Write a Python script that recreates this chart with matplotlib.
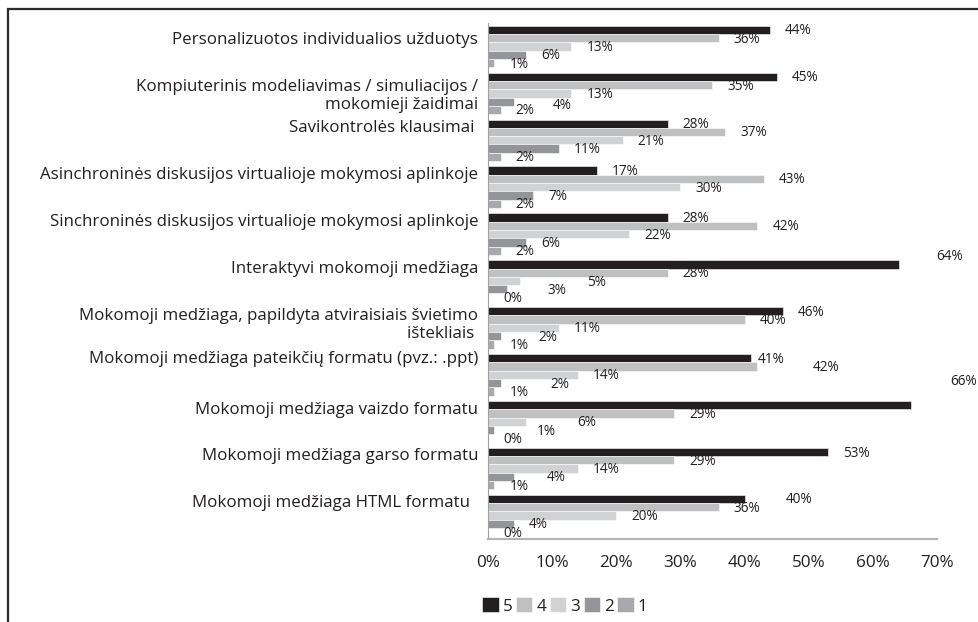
import matplotlib.pyplot as plt
import numpy as np
from matplotlib.patches import Rectangle
from matplotlib.ticker import MultipleLocator, FuncFormatter

plt.rcParams['font.family'] = ['Open Sans', 'DejaVu Sans']

# categories, top to bottom
categories = [
    'Personalizuotos individualios užduotys',
    'Kompiuterinis modeliavimas / simuliacijos /\nmokomieji žaidimai',
    'Savikontrolės klausimai ',
    'Asinchroninės diskusijos virtualioje mokymosi aplinkoje',
    'Sinchroninės diskusijos virtualioje mokymosi aplinkoje',
    'Interaktyvi mokomoji medžiaga',
    'Mokomoji medžiaga, papildyta atviraisiais švietimo\ništekliais ',
    'Mokomoji medžiaga pateikčių formatu (pvz.: .ppt)',
    'Mokomoji medžiaga vaizdo formatu',
    'Mokomoji medžiaga garso formatu',
    'Mokomoji medžiaga HTML formatu  ',
]

series_names = ['5', '4', '3', '2', '1']
s5 = [44, 45, 28, 17, 28, 64, 46, 41, 66, 53, 40]
s4 = [36, 35, 37, 43, 42, 28, 40, 42, 29, 29, 36]
s3 = [13, 13, 21, 30, 22, 5, 11, 14, 6, 14, 20]
s2 = [6, 4, 11, 7, 6, 3, 2, 2, 1, 4, 4]
s1 = [1, 2, 2, 2, 2, 0, 1, 1, 0, 1, 0]

colors = ['#231f20', '#bfc0c2', '#d1d2d4', '#939598', '#a7a9ac']
text_color = '#231f20'

# value labels that sit off their default place in the original (pixels)
label_nudge = {
    (1, 3): (24, 3), (5, 0): (23, -9), (5, 2): (52, 0), (5, 3): (25, 0),
    (6, 3): (23, 0), (7, 0): (-8, 0), (7, 1): (40, 0), (7, 3): (35, 0),
    (8, 0): (24, -25), (8, 2): (36, 0), (8, 3): (27, 0), (9, 3): (18, 0),
    (10, 0): (26, 0),
}
# small vertical shifts of category labels (pixels, down is positive)
cat_nudge = {0: 6, 1: 6, 7: -4}

fig = plt.figure(figsize=(9.79, 6.22), dpi=100)
ax = fig.add_axes([488 / 979, 1 - 539 / 622, (937 - 488) / 979, (539 - 23) / 622])

y = np.arange(len(categories))
bar_h = 0.177
group = [s5, s4, s3, s2, s1]
bars = []
px = 72 / 100  # pixels -> points
for k, (vals, name, col) in enumerate(zip(group, series_names, colors)):
    pos = y - 2.5 * bar_h + (k + 0.5) * bar_h
    b = ax.barh(pos, vals, height=bar_h, color=col, edgecolor='white',
                linewidth=0.4, label=name)
    bars.append(b)
    # value labels
    for i, (p, v) in enumerate(zip(pos, vals)):
        dx, dy = label_nudge.get((i, k), (0, 0))
        ax.annotate(f'{v}%', xy=(v, p), xytext=((15 + dx) * px, (-1 - dy) * px),
                    textcoords='offset points', ha='left', va='center',
                    fontsize=9.8, color=text_color)

ax.set_xlim(0, 70)
ax.set_ylim(len(categories) - 0.5, -0.5)
ax.xaxis.set_major_locator(MultipleLocator(10))
ax.xaxis.set_major_formatter(FuncFormatter(lambda v, _: f'{v:.0f}%'))
ax.tick_params(axis='x', length=0, pad=11.5, labelsize=12.3, labelcolor=text_color)
ax.set_yticks([])

for s in ['top', 'right']:
    ax.spines[s].set_visible(False)
ax.spines['left'].set_color('#a0a0a0')
ax.spines['bottom'].set_color('#b4b4b4')
ax.spines['bottom'].set_linewidth(1.5)

# category labels, placed near the top of each group
for i, c in enumerate(categories):
    ax.annotate(c, xy=(0, i - 0.43), xycoords=('axes fraction', 'data'),
                xytext=(-7, -cat_nudge.get(i, 0) * px), textcoords='offset points',
                ha='right', va='top', fontsize=12.2, color=text_color,
                linespacing=1.15)

leg = fig.legend(handles=bars, labels=series_names, loc='center',
                 bbox_to_anchor=(565 / 979, 1 - 606 / 622), ncol=5,
                 frameon=False, fontsize=12.3, handlelength=0.95,
                 handleheight=0.95, handletextpad=0.25, columnspacing=0.2,
                 labelcolor=text_color)

# outer frame (cut off at right and bottom like the original)
fig.patches.append(Rectangle((8 / 979, -0.1), 1.2, 1.1 - 9 / 622,
                             transform=fig.transFigure, fill=False,
                             edgecolor='#2b2b2b', linewidth=1.6))

fig.savefig('out.png', dpi=100)
